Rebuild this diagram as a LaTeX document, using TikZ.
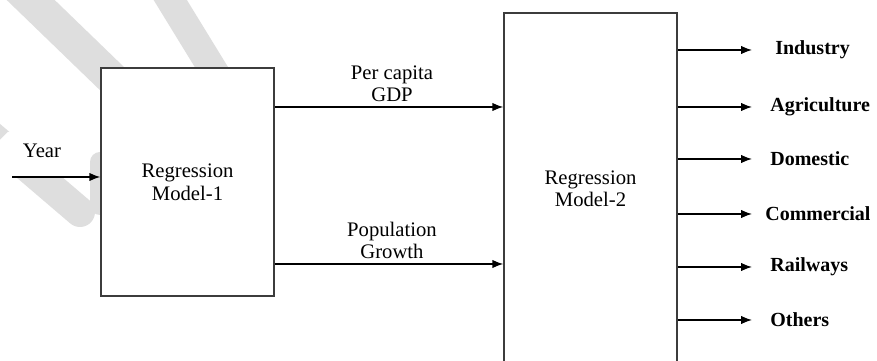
\documentclass[tikz,border=0pt]{standalone}
\usepackage{fontspec}
\setmainfont{Liberation Serif}
\usetikzlibrary{arrows.meta}
\definecolor{wmgrey}{HTML}{DEDEDE}
\definecolor{boxline}{HTML}{3C3C3C}
\begin{document}
\begin{tikzpicture}[x=0.6pt,y=-0.6pt,
 box/.style={draw=boxline,line width=0.9pt,fill=white,minimum width=103.8pt,inner sep=0pt,align=center,font=\fontsize{12.4}{13.8}\selectfont},
 arr/.style={line width=0.75pt,-{Latex[length=6.5pt,width=5pt]}},
 lab/.style={inner sep=0pt,align=center,font=\fontsize{12.4}{13.2}\selectfont},
 outlab/.style={inner sep=0pt,anchor=west,font=\bfseries\fontsize{12}{13.8}\selectfont},
 wm/.style={draw=wmgrey,line cap=round}]
\clip (0,0) rectangle (877,361);
\fill[white] (0,0) rectangle (877,361);
% watermark
\draw[wm,line width=20pt] (10,-20) -- (160,125);
\draw[wm,line width=17pt] (158,-20) -- (250,130);
\draw[wm,line width=18pt] (-30,118) -- (80,212);
\fill[white] (0,140) -- (8,132) -- (92,132) -- (92,176) -- (0,176) -- cycle;
\fill[wmgrey,rounded corners=6pt] (90,152) rectangle (120,215);
% boxes
\node[box,minimum height=136.8pt] (b1) at (187.5,182) {Regression\\Model-1};
\node[box,minimum height=217.2pt] (b2) at (590.5,194) {};
\node[lab] (t2) at (590.5,189) {Regression\\Model-2};
% inputs
\node[lab] (year) at (42,151) {Year};
\coordinate (ys) at (12,177);
\draw[arr] (ys) -- (b1.west |- ys);
\coordinate (g1) at (0,107);
\coordinate (g2) at (0,264);
\node[lab] (gdp) at (392,84) {Per capita\\GDP};
\node[lab] (pop) at (392,240) {Population\\Growth};
\draw[arr] (b1.east |- g1) -- (b2.west |- g1);
\draw[arr] (b1.east |- g2) -- (b2.west |- g2);
% outputs
\node[outlab] (o1) at (775,50) {Industry};
\node[outlab] (o2) at (770,107) {Agriculture};
\node[outlab] (o3) at (770,159) {Domestic};
\node[outlab] (o4) at (765,214) {Commercial};
\node[outlab] (o5) at (770,267) {Railways};
\node[outlab] (o6) at (770,320) {Others};
\coordinate (e1) at (752,50);
\coordinate (e2) at (752,107);
\coordinate (e3) at (752,159);
\coordinate (e4) at (752,214);
\coordinate (e5) at (752,267);
\coordinate (e6) at (752,320);
\foreach \i in {1,...,6} {\draw[arr] (b2.east |- e\i) -- (e\i);}
\end{tikzpicture}
\end{document}
